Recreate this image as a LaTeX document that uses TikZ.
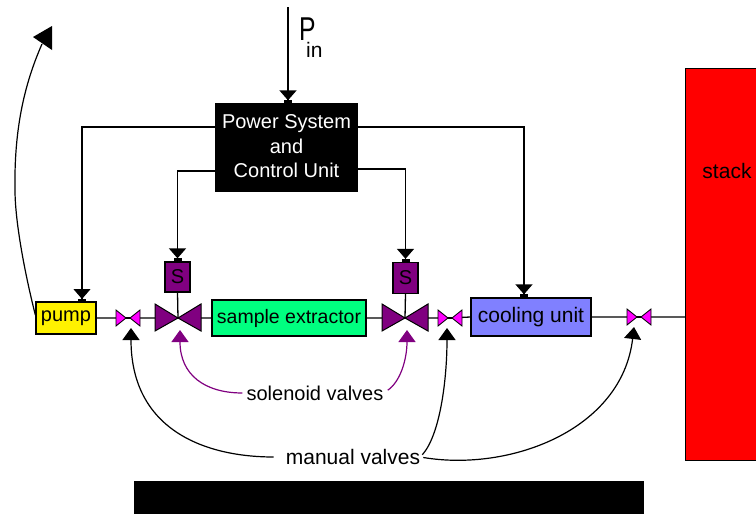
\documentclass[tikz,border=0pt]{standalone}
\usepackage{fontspec}
\setmainfont{Liberation Sans}
\usetikzlibrary{arrows.meta}
\definecolor{solpurple}{HTML}{800080}
\definecolor{extgreen}{HTML}{00FF80}
\definecolor{coolblue}{HTML}{8080FF}
\definecolor{stackred}{HTML}{FF0000}
\definecolor{valvepink}{HTML}{FF00FF}
\tikzset{
  wire/.style={draw=black,line width=1.3pt},
  feed/.style={wire,-{Triangle[width=17pt,length=10pt,sep=0pt]Rectangle[width=8pt,length=3pt]}},
  point/.style={draw=black,line width=1.2pt,-{Triangle[width=17pt,length=12pt]}},
  solpoint/.style={draw=solpurple,line width=1.2pt,-{Triangle[width=17pt,length=12pt,fill=solpurple]}},
  unit/.style={draw=black,line width=1.3pt,inner sep=0pt,minimum height=#1,font=\fontsize{20}{22}\selectfont},
  label/.style={inner sep=0pt,font=\fontsize{20}{22}\selectfont},
  smallvalve/.pic={
    \draw[line width=1.8pt] (-4,0)--(4,0);
    \draw[fill=valvepink,line width=0.8pt,line join=miter] (-12,-8)--(-12,8)--(-2,0)--cycle;
    \draw[fill=valvepink,line width=0.8pt,line join=miter] (12,-8)--(12,8)--(2,0)--cycle;
  },
  bigvalve/.pic={
    \draw[fill=solpurple,line width=1pt,line join=miter] (-23,-14)--(-23,13)--(0,0)--cycle;
    \draw[fill=solpurple,line width=1pt,line join=miter] (23,-14)--(23,13)--(0,0)--cycle;
  }
}
\begin{document}
\begin{tikzpicture}[x=1pt,y=-1pt]
\useasboundingbox (0,0) rectangle (756,514);
% named points
\coordinate (pin) at (288,7);
\coordinate (v1) at (128,318);
\coordinate (b1) at (178,318);
\coordinate (b2) at (405,318);
\coordinate (v2) at (450,318);
\coordinate (v3) at (639,317);
\coordinate (ret) at (42,44);
\coordinate (tipA) at (131,328);
\coordinate (tipB) at (447,328);
\coordinate (tipC) at (634,327);
\coordinate (tipD) at (180,330);
\coordinate (tipE) at (407,330);
% nodes
\fill[stackred] (685,68) rectangle (756,460);
\draw[line width=1pt] (756,68)--(685,68)--(685,460)--(756,460);
\node[label,anchor=center,font=\fontsize{21}{22}\selectfont] (stack) at (727,171) {stack};
\path (685,317) coordinate (stackin);
\node[unit=87pt,fill=black,text=white,minimum width=141pt,align=center,font=\fontsize{20}{24.5}\selectfont] (psu) at (286.5,147.5) {\raisebox{2pt}{Power System}\\\raisebox{2pt}{and}\\\raisebox{2pt}{Control Unit}};
\node[unit=32pt,fill=yellow,minimum width=60pt] (pump) at (66,318) {pump};
\node[unit=36pt,fill=extgreen,minimum width=154pt,font=\fontsize{19.5}{22}\selectfont] (ext) at (289,318) {sample extractor};
\node[unit=38pt,fill=coolblue,minimum width=120pt,font=\fontsize{21}{22}\selectfont] (cool) at (531,317) {cooling unit};
\node[unit=30pt,fill=solpurple,minimum width=25pt] (s1) at (177.5,277) {S};
\node[unit=31pt,fill=solpurple,minimum width=25pt] (s2) at (405.5,278) {S};
\node[label,anchor=west,font=\fontsize{33}{33}\selectfont] (pP) at (299,29.5) {\scalebox{0.75}[1]{P}};
\node[label,anchor=west,font=\fontsize{21}{21}\selectfont] (pIn) at (306,50) {in};
\node[label] (solv) at (315,393) {solenoid valves};
\node[label,font=\fontsize{21}{22}\selectfont] (manv) at (353,457) {manual valves};
% process line
\draw[wire] (pump.east)--(v1) (v1)--(b1) (b1)--(ext.west) (ext.east)--(b2) (b2)--(v2) (v2)--(cool.west) (cool.east)--(v3) (v3)--(stackin);
\draw[wire] (s1.south)--(b1) (s2.south)--(b2);
\pic at (v1) {smallvalve};
\pic at (v2) {smallvalve};
\pic at (v3) {smallvalve};
\pic at (b1) {bigvalve};
\pic at (b2) {bigvalve};
% control lines
\draw[feed] (pin)--(pin|-psu.north);
\draw[feed] (psu.west|-0,127)-|(82,302);
\draw[feed] (psu.east|-0,127)-|(cool.north-|524,0);
\draw[feed] (psu.west|-0,171)-|(s1.north);
\draw[feed] (psu.east|-0,169)-|(s2.north);
% return
\draw[wire,line width=1.2pt] (pump.west|-0,315) .. controls (24,270) and (15,220) .. (15,190) .. controls (14,130) and (24,85) .. (ret);
\fill (33,37)--(52,26)--(52,50)--cycle;
% leaders
\draw[point,shorten <=12pt] (manv.west) .. controls (205,457) and (131,430) .. (tipA);
\draw[point,shorten <=3pt] (manv.east) .. controls (440,435) and (447,380) .. (tipB);
\draw[point,shorten <=3pt] (manv.east) .. controls (510,472) and (622,430) .. (tipC);
\draw[solpoint,shorten <=4pt] (solv.west) .. controls (205,393) and (180,375) .. (tipD);
\draw[solpoint,shorten <=5pt] (solv.east) .. controls (400,382) and (407,360) .. (tipE);
\fill (134,481) rectangle (644,514);
\end{tikzpicture}
\end{document}
